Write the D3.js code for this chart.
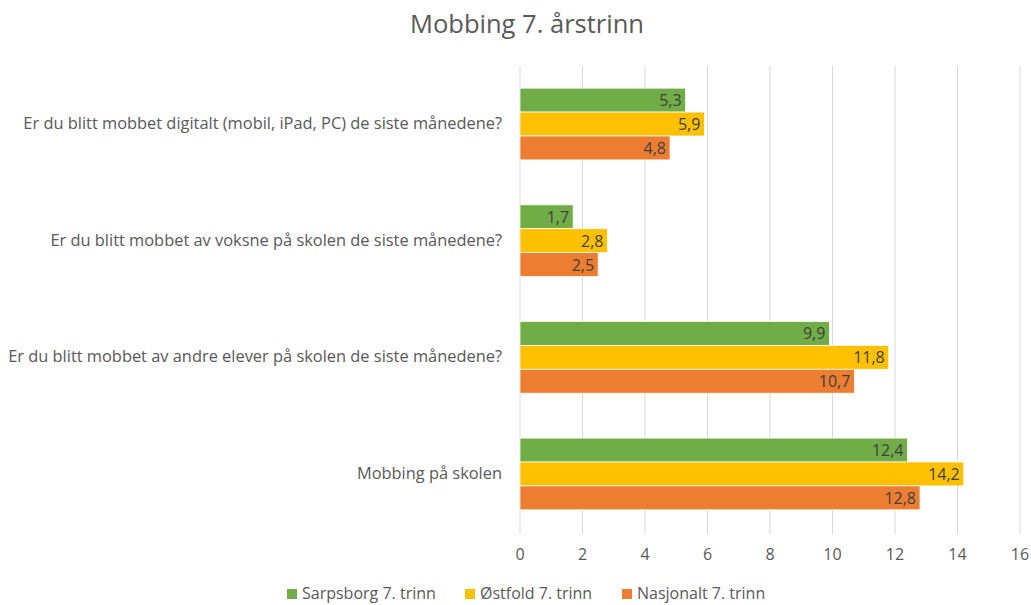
<!DOCTYPE html>
<html>
<head>
<meta charset="utf-8">
<script src="https://cdn.jsdelivr.net/npm/d3@7"></script>
<style>
  body { margin: 0; background: #fff; }
  text { font-family: "Open Sans", Lato, sans-serif; }
</style>
</head>
<body>
<svg width="1031" height="605"></svg>
<script>
// chart data
var categories = [
  "Er du blitt mobbet digitalt (mobil, iPad, PC) de siste månedene?",
  "Er du blitt mobbet av voksne på skolen de siste månedene?",
  "Er du blitt mobbet av andre elever på skolen de siste månedene?",
  "Mobbing på skolen"
];
var seriesNames = ["Sarpsborg 7. trinn", "Østfold 7. trinn", "Nasjonalt 7. trinn"];
var sarpsborg = [5.3, 1.7, 9.9, 12.4];
var ostfold = [5.9, 2.8, 11.8, 14.2];
var nasjonalt = [4.8, 2.5, 10.7, 12.8];
var xTicks = [0, 2, 4, 6, 8, 10, 12, 14, 16];

var colors = ["#70AD47", "#FFC000", "#ED7D31"];
var seriesValues = [sarpsborg, ostfold, nasjonalt];

var svg = d3.select("svg"),
    plotLeft = 520, plotRight = 1020, plotTop = 66, plotBottom = 532;

var x = d3.scaleLinear().domain([0, 16]).range([plotLeft, plotRight]);
var y = d3.scaleBand().domain(categories).range([plotTop, plotBottom]).paddingInner(0.385).paddingOuter(0.19);
var ySub = d3.scaleBand().domain(d3.range(3)).range([0, y.bandwidth()]);

// title
svg.append("text")
    .attr("x", 527).attr("y", 33)
    .attr("text-anchor", "middle")
    .style("font-size", "25.5px")
    .style("fill", "#595959")
    .text("Mobbing 7. årstrinn");

// gridlines
svg.append("g").selectAll("line")
  .data(xTicks)
  .enter().append("line")
    .attr("x1", function(d) { return x(d); })
    .attr("x2", function(d) { return x(d); })
    .attr("y1", plotTop).attr("y2", plotBottom + 2)
    .style("stroke", "#d9d9d9")
    .style("stroke-width", 1);

// x axis labels
svg.append("g").selectAll("text")
  .data(xTicks)
  .enter().append("text")
    .attr("x", function(d) { return x(d); })
    .attr("y", 560)
    .attr("text-anchor", "middle")
    .style("font-size", "16px")
    .style("fill", "#595959")
    .text(function(d) { return d; });

// category labels
svg.append("g").selectAll("text")
  .data(categories)
  .enter().append("text")
    .attr("x", 502)
    .attr("y", function(d) { return y(d) + y.bandwidth() / 2 + 5; })
    .attr("text-anchor", "end")
    .style("font-size", "16.4px")
    .style("fill", "#595959")
    .text(function(d) { return d; });

// bars
var rows = [];
categories.forEach(function(c, i) {
  seriesValues.forEach(function(vals, s) {
    rows.push({ cat: c, s: s, v: vals[i] });
  });
});

svg.append("g").selectAll("rect")
  .data(rows)
  .enter().append("rect")
    .attr("x", x(0))
    .attr("y", function(d) { return y(d.cat) + ySub(d.s); })
    .attr("width", function(d) { return x(d.v) - x(0); })
    .attr("height", ySub.bandwidth())
    .style("fill", function(d) { return colors[d.s]; })
    .style("stroke", "#fff")
    .style("stroke-width", 0.75);

svg.append("g").selectAll("text")
  .data(rows)
  .enter().append("text")
    .attr("x", function(d) { return x(d.v) - 4; })
    .attr("y", function(d) { return y(d.cat) + ySub(d.s) + ySub.bandwidth() / 2 + 6; })
    .attr("text-anchor", "end")
    .style("font-size", "16px")
    .style("fill", "#404040")
    .text(function(d) { return String(d.v).replace(".", ","); });

// legend
var legendX = [287, 465, 622];
var legend = svg.append("g").selectAll("g")
  .data(seriesNames)
  .enter().append("g")
    .attr("transform", function(d, i) { return "translate(" + legendX[i] + ",589)"; });
legend.append("rect")
    .attr("width", 10).attr("height", 10)
    .style("fill", function(d, i) { return colors[i]; });
legend.append("text")
    .attr("x", 15).attr("y", 10)
    .style("font-size", "16px")
    .style("fill", "#595959")
    .text(function(d) { return d; });
</script>
</body>
</html>
